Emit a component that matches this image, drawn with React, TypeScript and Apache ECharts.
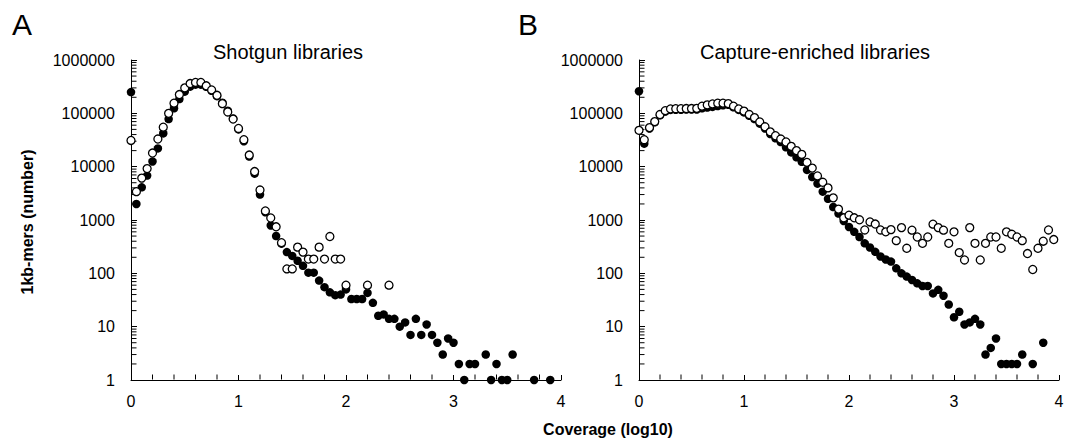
import React, { useEffect, useRef } from "react";
import * as echarts from "echarts";

// [coverage (log10), number of 1kb-mers]
const shotgunFilled: [number, number][] = [
  [0, 250000], [0.05, 2000], [0.1, 4100], [0.15, 6800], [0.2, 12500], [0.25, 22000],
  [0.3, 42000], [0.35, 78000], [0.4, 124000], [0.45, 185000], [0.5, 255000], [0.55, 316000],
  [0.6, 345000], [0.65, 345000], [0.7, 315000], [0.75, 265000], [0.8, 210000], [0.85, 158000],
  [0.9, 112000], [0.95, 80000], [1.0, 50000], [1.05, 30000], [1.1, 15500], [1.15, 7400],
  [1.2, 3000], [1.25, 1400], [1.3, 790], [1.35, 500], [1.4, 360], [1.45, 250], [1.5, 212],
  [1.55, 172], [1.6, 138], [1.65, 103], [1.7, 103], [1.75, 73], [1.8, 55], [1.85, 44],
  [1.9, 39], [1.95, 40], [2.0, 50], [2.05, 33], [2.1, 33], [2.15, 33], [2.2, 43], [2.25, 28],
  [2.3, 16], [2.35, 17], [2.4, 14], [2.45, 14], [2.5, 10], [2.55, 12], [2.6, 7], [2.65, 14],
  [2.7, 7], [2.75, 11], [2.8, 7], [2.85, 5], [2.9, 3], [2.95, 6], [3.0, 5], [3.05, 2],
  [3.1, 1], [3.15, 2], [3.2, 2], [3.3, 3], [3.35, 1], [3.4, 2], [3.45, 1], [3.5, 1],
  [3.55, 3], [3.75, 1], [3.9, 1],
];

const shotgunOpen: [number, number][] = [
  [0, 31000], [0.05, 3400], [0.1, 6100], [0.15, 9200], [0.2, 18000], [0.25, 33000],
  [0.3, 55000], [0.35, 100000], [0.4, 155000], [0.45, 225000], [0.5, 300000], [0.55, 362000],
  [0.6, 380000], [0.65, 380000], [0.7, 328000], [0.75, 275000], [0.8, 218000], [0.85, 152000],
  [0.9, 106000], [0.95, 78000], [1.0, 52000], [1.05, 32000], [1.1, 16500], [1.15, 8100],
  [1.2, 3650], [1.25, 1480], [1.3, 1090], [1.35, 745], [1.4, 375], [1.45, 121], [1.5, 121],
  [1.55, 310], [1.6, 250], [1.65, 185], [1.7, 185], [1.75, 310], [1.8, 185], [1.85, 490],
  [1.9, 185], [1.95, 185], [2.0, 60], [2.2, 60], [2.4, 60],
];

const captureFilled: [number, number][] = [
  [0, 260000], [0.05, 27000], [0.1, 52000], [0.15, 68000], [0.2, 92000], [0.25, 108000],
  [0.3, 116000], [0.35, 117000], [0.4, 117000], [0.45, 118000], [0.5, 118000], [0.55, 118000],
  [0.6, 124000], [0.65, 128000], [0.7, 132000], [0.75, 137000], [0.8, 142000], [0.85, 145000],
  [0.9, 130000], [0.95, 116000], [1.0, 104000], [1.05, 90000], [1.1, 78000], [1.15, 64000],
  [1.2, 52000], [1.25, 41000], [1.3, 34000], [1.35, 29000], [1.4, 23000], [1.45, 18500],
  [1.5, 15000], [1.55, 12300], [1.6, 8700], [1.65, 6400], [1.7, 4800], [1.75, 3400],
  [1.8, 2500], [1.85, 1750], [1.9, 1320], [1.95, 960], [2.0, 740], [2.05, 600], [2.1, 480],
  [2.15, 365], [2.2, 305], [2.25, 253], [2.3, 207], [2.35, 182], [2.4, 166], [2.45, 124],
  [2.5, 100], [2.55, 87], [2.6, 75], [2.65, 65], [2.7, 58], [2.75, 58], [2.8, 42],
  [2.85, 49], [2.9, 38], [2.95, 26], [3.0, 15], [3.05, 19], [3.1, 11], [3.15, 12],
  [3.2, 14], [3.25, 11], [3.3, 3], [3.35, 4], [3.4, 6], [3.45, 2], [3.5, 2], [3.55, 2],
  [3.6, 2], [3.65, 3], [3.75, 2], [3.85, 5],
];

const captureOpen: [number, number][] = [
  [0, 48000], [0.05, 32000], [0.1, 54000], [0.15, 70000], [0.2, 95000], [0.25, 112000],
  [0.3, 121000], [0.35, 122000], [0.4, 122000], [0.45, 123000], [0.5, 123000], [0.55, 124000],
  [0.6, 136000], [0.65, 144000], [0.7, 150000], [0.75, 155000], [0.8, 155000], [0.85, 152000],
  [0.9, 136000], [0.95, 121000], [1.0, 110000], [1.05, 95000], [1.1, 83000], [1.15, 69000],
  [1.2, 56000], [1.25, 45000], [1.3, 38000], [1.35, 33000], [1.4, 29000], [1.45, 24000],
  [1.5, 20000], [1.55, 17000], [1.6, 12000], [1.65, 9400], [1.7, 6700], [1.75, 5100],
  [1.8, 4000], [1.85, 2600], [1.9, 1600], [1.95, 1100], [2.0, 1230], [2.05, 1100],
  [2.1, 1010], [2.15, 650], [2.2, 920], [2.25, 840], [2.3, 650], [2.35, 600], [2.4, 660],
  [2.45, 410], [2.5, 720], [2.55, 295], [2.6, 645], [2.65, 480], [2.7, 365], [2.75, 480],
  [2.8, 835], [2.85, 720], [2.9, 645], [2.95, 365], [3.0, 600], [3.05, 245], [3.1, 178],
  [3.15, 720], [3.2, 365], [3.25, 178], [3.3, 365], [3.35, 480], [3.4, 480], [3.45, 295],
  [3.5, 600], [3.55, 540], [3.6, 480], [3.65, 410], [3.7, 235], [3.75, 118], [3.8, 295],
  [3.85, 400], [3.9, 650], [3.95, 430],
];

const panelTitles = ["Shotgun libraries", "Capture-enriched libraries"];
const panelLetters = ["A", "B"];
const yAxisName = "1kb-mers (number)";
const xAxisName = "Coverage (log10)";

// minor tick positions (axis decoration, not data)
const yMinorTicks: number[] = [];
for (let d = 1; d < 1000000; d *= 10) for (let m = 2; m <= 9; m++) yMinorTicks.push(m * d);
const xMinorTicks: number[] = [];
for (let k = 1; k < 20; k++) if (k % 5 !== 0) xMinorTicks.push(k / 5);

const FONT = "'Liberation Sans', Arial, sans-serif";

export default function App() {
  const ref = useRef<HTMLDivElement>(null);
  useEffect(() => {
    document.body.style.margin = "0";
    const chart = echarts.init(ref.current!, undefined, { renderer: "svg" });

    const grids = [
      { left: 131, top: 60, width: 430, height: 320 },
      { left: 639, top: 60, width: 420, height: 320 },
    ];

    const xAxis = grids.map((_, i) => ({
      type: "value",
      gridIndex: i,
      min: 0,
      max: 4,
      interval: 1,
      axisLine: { show: true, lineStyle: { color: "#000", width: 1 } },
      axisTick: { show: true, inside: true, length: 5, lineStyle: { color: "#000" } },
      splitLine: { show: false },
      axisLabel: { color: "#000", fontSize: 16, fontFamily: FONT, margin: 13 },
    }));

    const yAxis = grids.map((_, i) => ({
      type: "log",
      logBase: 10,
      gridIndex: i,
      min: 1,
      max: 1000000,
      axisLine: { show: true, lineStyle: { color: "#000", width: 1 } },
      axisTick: { show: true, inside: true, length: 6, lineStyle: { color: "#000" } },
      splitLine: { show: false },
      axisLabel: {
        color: "#000",
        fontSize: 16,
        fontFamily: FONT,
        margin: 16,
        formatter: (v: number) => String(Math.round(v)),
      },
    }));

    const filledStyle = { color: "#000", opacity: 1 };
    const openStyle = { color: "#fff", borderColor: "#000", borderWidth: 1.3, opacity: 1 };
    const mk = (data: [number, number][], idx: number, open: boolean, name: string) => ({
      type: "scatter",
      name,
      xAxisIndex: idx,
      yAxisIndex: idx,
      data,
      symbol: "circle",
      symbolSize: open ? 8 : 8.5,
      itemStyle: open ? openStyle : filledStyle,
      emphasis: { disabled: true },
      clip: false,
      z: open ? 4 : 3,
    });
    const tickSeries = (idx: number) => [
      {
        type: "scatter",
        name: "y minor ticks " + idx,
        xAxisIndex: idx,
        yAxisIndex: idx,
        data: yMinorTicks.map((v) => [0, v]),
        symbol: "rect",
        symbolSize: [5, 1],
        symbolOffset: [3, 0],
        itemStyle: { color: "#000", opacity: 1 },
        emphasis: { disabled: true },
        silent: true,
        clip: false,
        z: 1,
      },
      {
        type: "scatter",
        name: "x minor ticks " + idx,
        xAxisIndex: idx,
        yAxisIndex: idx,
        data: xMinorTicks.map((v) => [v, 1]),
        symbol: "rect",
        symbolSize: [1, 5],
        symbolOffset: [0, -3],
        itemStyle: { color: "#000", opacity: 1 },
        emphasis: { disabled: true },
        silent: true,
        clip: false,
        z: 1,
      },
    ];

    chart.setOption({
      animation: false,
      backgroundColor: "#fff",
      textStyle: { fontFamily: FONT },
      grid: grids,
      xAxis,
      yAxis,
      title: [
        { text: panelTitles[0], left: 283, top: 37, textAlign: "center",
          textStyle: { fontSize: 20, fontWeight: "normal", color: "#000", fontFamily: FONT } },
        { text: panelTitles[1], left: 810, top: 37, textAlign: "center",
          textStyle: { fontSize: 20, fontWeight: "normal", color: "#000", fontFamily: FONT } },
      ],
      graphic: [
        { type: "text", x: 22, y: 24, style: { text: panelLetters[0], fontSize: 30, fontFamily: FONT, fill: "#000", align: "center", verticalAlign: "middle" } },
        { type: "text", x: 528, y: 24, style: { text: panelLetters[1], fontSize: 30, fontFamily: FONT, fill: "#000", align: "center", verticalAlign: "middle" } },
        { type: "text", x: 27, y: 222, rotation: Math.PI / 2, style: { text: yAxisName, fontSize: 16, fontWeight: "bold", fontFamily: FONT, fill: "#000", align: "center", verticalAlign: "middle" } },
        { type: "text", x: 608, y: 429, style: { text: xAxisName, fontSize: 16, fontWeight: "bold", fontFamily: FONT, fill: "#000", align: "center", verticalAlign: "middle" } },
      ],
      series: [
        ...tickSeries(0),
        ...tickSeries(1),
        mk(shotgunFilled, 0, false, "Shotgun filled"),
        mk(shotgunOpen, 0, true, "Shotgun open"),
        mk(captureFilled, 1, false, "Capture filled"),
        mk(captureOpen, 1, true, "Capture open"),
      ],
    });
    return () => chart.dispose();
  }, []);
  return <div ref={ref} style={{ width: 1075, height: 441 }} />;
}
